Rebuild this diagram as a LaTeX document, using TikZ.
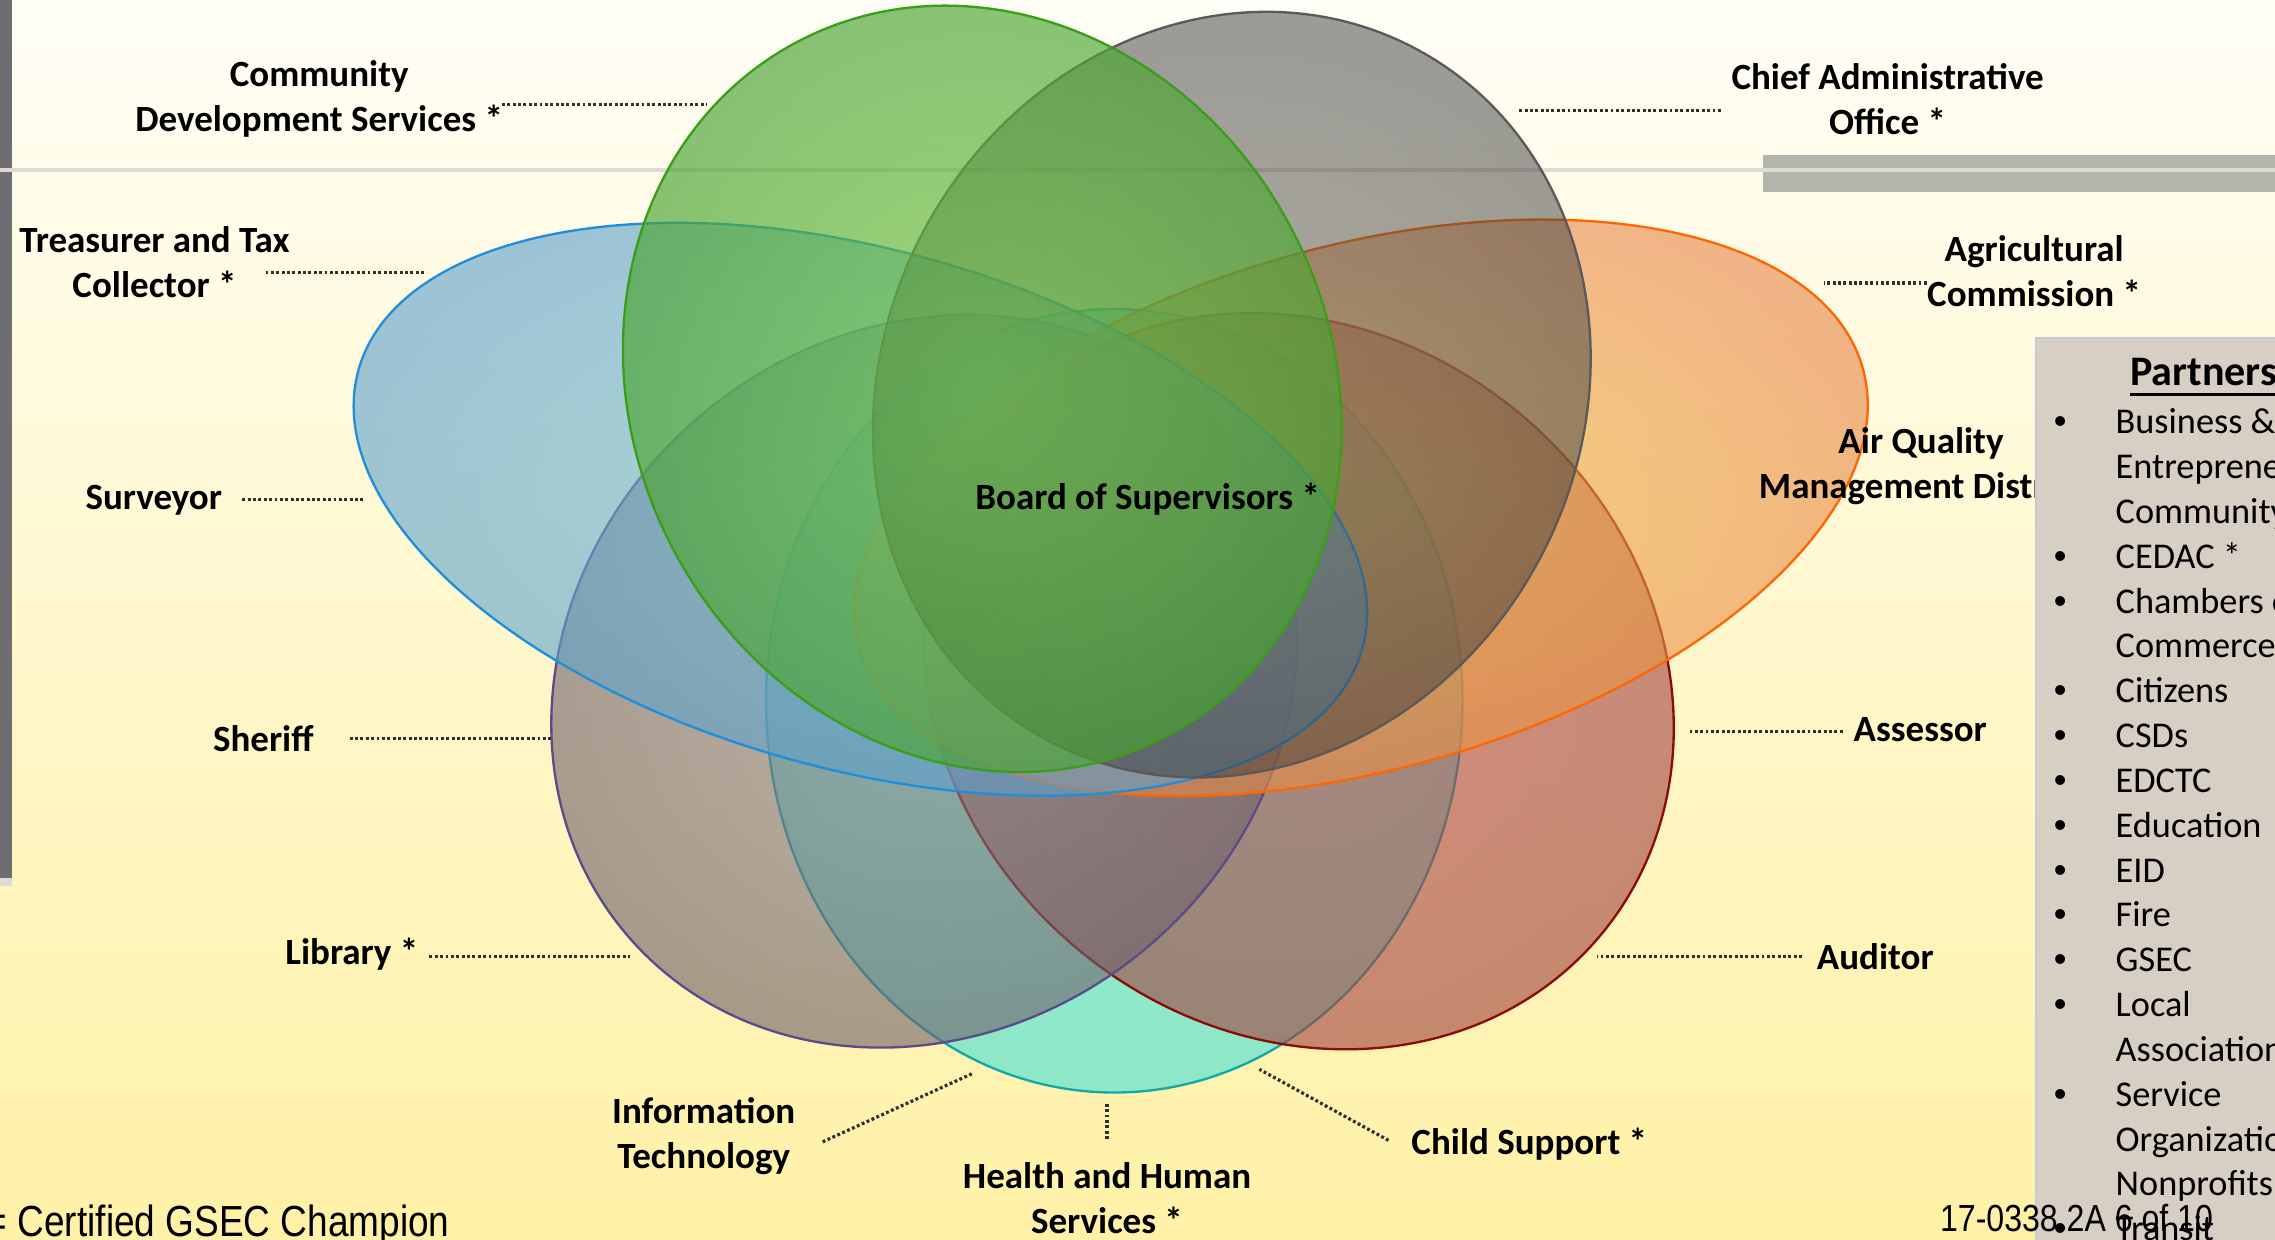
\documentclass[tikz,border=0pt]{standalone}
\usepackage{fontspec}
\setmainfont{Carlito}
\newfontfamily\narrowfont[FakeStretch=0.85]{Liberation Sans}
\newfontfamily\bulletfont{Liberation Sans}
\definecolor{bgTop}{HTML}{FFFEF6}
\definecolor{bgBot}{HTML}{FFF1A6}
\definecolor{barGray}{HTML}{6E6D72}
\definecolor{ruleBeige}{HTML}{E0DAD0}
\definecolor{topBar}{HTML}{B2B5AC}
\definecolor{boxFill}{HTML}{D8CFC4}
\definecolor{boxEdge}{HTML}{C3CBD3}
\definecolor{leadGray}{HTML}{303030}
\definecolor{grIn}{HTML}{6EC543}\definecolor{grOut}{HTML}{46A030}\definecolor{grLine}{HTML}{3A9E18}
\definecolor{gyIn}{HTML}{5C5C5C}\definecolor{gyOut}{HTML}{3A3A3C}\definecolor{gyLine}{HTML}{5A5A5A}
\definecolor{blIn}{HTML}{70BCD2}\definecolor{blOut}{HTML}{5C9FCC}\definecolor{blLine}{HTML}{1E8FD8}
\definecolor{orIn}{HTML}{EDB941}\definecolor{orOut}{HTML}{E98548}\definecolor{orLine}{HTML}{FF6600}
\definecolor{tpIn}{HTML}{8E838E}\definecolor{tpOut}{HTML}{6A5C66}\definecolor{tpLine}{HTML}{5C4A8C}
\definecolor{rdIn}{HTML}{B94A50}\definecolor{rdOut}{HTML}{9D413D}\definecolor{rdLine}{HTML}{8B0A0A}
\definecolor{tlIn}{HTML}{43E6DE}\definecolor{tlOut}{HTML}{43E0D6}\definecolor{tlLine}{HTML}{12A8A8}
\begin{document}
\begin{tikzpicture}[x=1pt,y=1pt,
  lbl/.style={font=\fontsize{25.5}{31}\selectfont\bfseries, align=center, inner sep=0pt},
  leader/.style={draw=leadGray, line width=2.2pt, dash pattern=on 2pt off 1.7pt},
  blob/.style={line width=1.6pt, fill opacity=0.6, shading=radial},
  item/.style={font=\fontsize{25}{31}\selectfont, anchor=base west, inner sep=0pt},
  bul/.style={font=\bulletfont\fontsize{25}{31}\selectfont, anchor=base, inner sep=0pt}]
\useasboundingbox (0,0) rectangle (1568,854);
\clip (0,0) rectangle (1568,854);
% background
\shade[top color=bgTop, bottom color=bgBot] (0,0) rectangle (1568,854);
\fill[barGray] (0,249) rectangle (8,854);
\fill[ruleBeige] (0,243) rectangle (8,249);
\fill[topBar] (1215,722) rectangle (1568,747);
\draw[ruleBeige, line width=3pt] (0,737) -- (1568,737);
% ellipses (bottom to top)
\shadedraw[blob, draw=tlLine, inner color=tlIn, outer color=tlOut]
  (768,371) ellipse [x radius=240, y radius=270];
\shadedraw[blob, draw=rdLine, inner color=rdIn, outer color=rdOut, rotate around={-40.7:(895,384.5)}]
  (895,384.5) ellipse [x radius=272, y radius=239.3];
\shadedraw[blob, draw=tpLine, inner color=tpIn, outer color=tpOut, rotate around={40.7:(637,384.5)}]
  (637,384.5) ellipse [x radius=269.4, y radius=239.3];
\shadedraw[blob, draw=orLine, inner color=orIn, outer color=orOut, rotate around={15.5:(938,504)}]
  (938,504) ellipse [x radius=359, y radius=180.5];
\shadedraw[blob, draw=blLine, inner color=blIn, outer color=blOut, rotate around={-15.5:(593,503)}]
  (593,503) ellipse [x radius=359, y radius=179];
\shadedraw[blob, fill opacity=0.5, draw=gyLine, inner color=gyIn, outer color=gyOut, rotate around={-28:(849,582)}]
  (849,582) ellipse [x radius=240.5, y radius=270];
\shadedraw[blob, fill opacity=0.66, draw=grLine, inner color=grIn, outer color=grOut, rotate around={29:(677,586)}]
  (677,586) ellipse [x radius=240, y radius=271];
% labels
\node[lbl] (cds) at (220,786) {Community\\Development Services *};
\node[lbl] (cao) at (1301,786) {Chief Administrative\\Office *};
\node[lbl] (ttc) at (106.5,673.5) {Treasurer and Tax\\Collector *};
\node[lbl] (agr) at (1402,667) {Agricultural\\Commission *};
\node[lbl, anchor=base] (sur) at (106,503) {Surveyor};
\node[lbl] (aqm) at (1324,533) {Air Quality\\Management District};
\node[lbl, anchor=base] (bos) at (791,503) {Board of Supervisors *};
\node[lbl, anchor=base] (she) at (181.5,336) {Sheriff};
\node[lbl, anchor=base] (ass) at (1323.5,343) {Assessor};
\node[lbl, anchor=base] (lib) at (242.5,189) {Library *};
\node[lbl, anchor=base] (aud) at (1292.5,186) {Auditor};
\node[lbl] (ite) at (485,71) {Information\\Technology};
\node[lbl] (hhs) at (763,28) {Health and Human\\Services *};
\node[lbl, anchor=base] (chs) at (1054,58) {Child Support *};
% leaders
\coordinate (cdsA) at (346,782);  \coordinate (cdsB) at (487,782);
\coordinate (caoA) at (1186,778); \coordinate (caoB) at (1047,778);
\coordinate (ttcA) at (183,666);  \coordinate (ttcB) at (294,666);
\coordinate (agrA) at (1328,659); \coordinate (agrB) at (1257,659);
\coordinate (surA) at (167,510);  \coordinate (surB) at (251,510);
\coordinate (sheA) at (241,345);  \coordinate (sheB) at (380,345);
\coordinate (assA) at (1270,350); \coordinate (assB) at (1165,350);
\coordinate (libA) at (296,195);  \coordinate (libB) at (434,195);
\coordinate (audA) at (1242,195); \coordinate (audB) at (1101,195);
\coordinate (iteA) at (567,67);   \coordinate (iteB) at (670,114);
\coordinate (hhsA) at (763,69);   \coordinate (hhsB) at (763,94);
\coordinate (chsA) at (957,68);   \coordinate (chsB) at (868,117);
\foreach \n in {cds,cao,ttc,agr,sur,she,ass,lib,aud,ite,hhs,chs}
  \draw[leader] (\n A) -- (\n B);
% partners box
\fill[boxFill] (1403,-2) rectangle (1575,621);
\draw[boxEdge, line width=1.5pt] (1403,-2) -- (1403,621) -- (1575,621);
\node[font=\fontsize{29}{35}\selectfont\bfseries, anchor=base west, inner sep=0pt] (ptitle) at (1468,588.5) {Partners};
\draw[black, line width=2.2pt] ([yshift=-6.5pt]ptitle.base west) -- ([yshift=-6.5pt]ptitle.base east);
\foreach \t [count=\i from 0] in {Business \&, Entrepreneurial, Community, CEDAC *, Chambers of, Commerce, Citizens, CSDs, EDCTC, Education, EID, Fire, GSEC, Local, Associations, Service, Organizations/, Nonprofits, Transit}
  \node[item] (p\i) at (1458,555-30.9*\i) {\t};
\foreach \i in {0,3,4,6,7,8,9,10,11,12,13,15,18}
  \node[bul] (b\i) at (1420,555-30.9*\i) {•};
% footer texts
\node[font=\narrowfont\fontsize{30}{36}\selectfont, anchor=base east, inner sep=0pt] (gsec) at (310,2) {* = Certified GSEC Champion};
\node[font=\narrowfont\fontsize{26}{31}\selectfont, anchor=base west, inner sep=0pt] (page) at (1337,5) {17-0338 2A 6 of 10};
\end{tikzpicture}
\end{document}
